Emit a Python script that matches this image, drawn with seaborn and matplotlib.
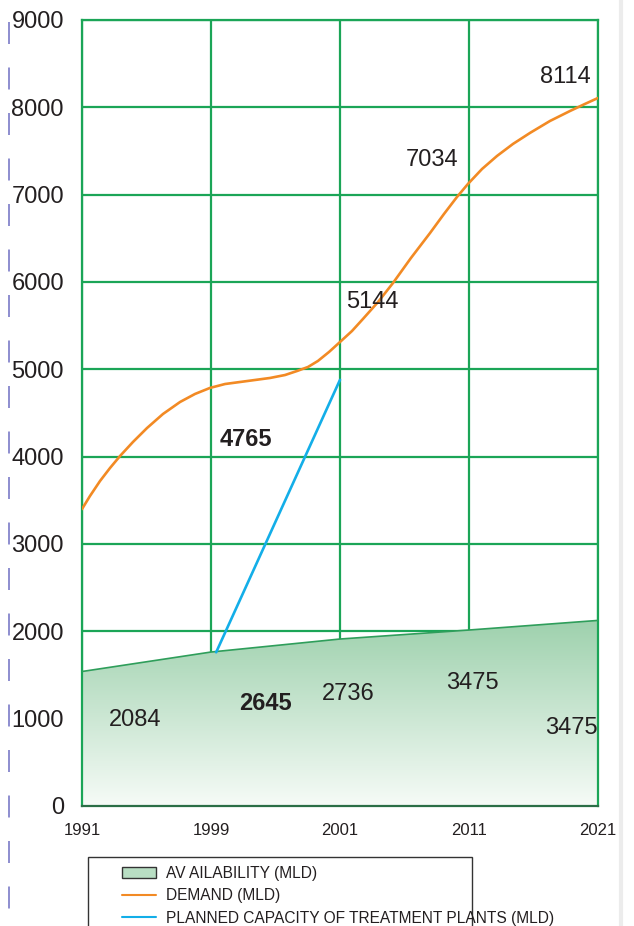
import numpy as np
import pandas as pd
import matplotlib
matplotlib.use("Agg")
import matplotlib.pyplot as plt
import seaborn as sns
from matplotlib.lines import Line2D
from matplotlib.patches import Patch, Rectangle
from matplotlib.colors import LinearSegmentedColormap

# ---------------- data ----------------
years = ["1991", "1999", "2001", "2011", "2021"]
availability = [1540, 1763, 1912, 2015, 2125]

demand_pos = [0.0, 0.062, 0.140, 0.217, 0.295, 0.395, 0.504, 0.628, 0.760,
              0.876, 0.992, 1.109, 1.225, 1.341, 1.457, 1.574, 1.667, 1.752,
              1.829, 1.915, 2.0, 2.093, 2.178, 2.295, 2.411, 2.550, 2.698,
              2.806, 2.907, 2.992, 3.101, 3.217, 3.341, 3.473, 3.628, 3.783,
              3.899, 4.0]
demand_val = [3400, 3550, 3722, 3870, 4008, 4168, 4328, 4489, 4626,
              4718, 4787, 4832, 4855, 4878, 4901, 4935, 4981, 5027,
              5096, 5199, 5313, 5439, 5577, 5771, 5989, 6275, 6561,
              6779, 6974, 7123, 7294, 7443, 7581, 7707, 7844, 7958,
              8039, 8107]

planned_pos = [1.04, 2.0]
planned_val = [1760, 4880]

y_ticks = [0, 1000, 2000, 3000, 4000, 5000, 6000, 7000, 8000, 9000]

label_text = ["2084", "2645", "2736", "3475", "3475", "4765", "5144", "7034", "8114"]
label_x = [0.41, 1.419, 2.062, 3.023, 3.791, 1.271, 2.248, 2.713, 3.744]
label_y = [985, 1168, 1282, 1408, 893, 4191, 5771, 7397, 8347]
label_bold = [False, True, False, False, False, True, False, False, False]

legend_labels = ["AV AILABILITY (MLD)", "DEMAND (MLD)",
                 "PLANNED CAPACITY OF TREATMENT PLANTS (MLD)"]

# ---------------- style ----------------
sns.set_style("white")
plt.rcParams["font.family"] = ["Liberation Sans", "DejaVu Sans"]
plt.rcParams["lines.scale_dashes"] = False

GRID = "#1ba557"
TXT = "#231f20"
ORANGE = "#f28a24"
BLUE = "#13aee8"

W, H = 634, 926
fig = plt.figure(figsize=(W / 100, H / 100), dpi=100)
ax = fig.add_axes([82 / W, 120 / H, 516 / W, 786 / H])

x_idx = np.arange(len(years))
df_av = pd.DataFrame({"x": x_idx, "v": availability})

# gradient filled area
poly = ax.fill_between(df_av["x"], 0, df_av["v"], facecolor="none",
                       edgecolor="none")
cmap = LinearSegmentedColormap.from_list("g", ["#f6fbf7", "#9ed1ad"])
grad = np.linspace(1, 0, 256).reshape(-1, 1)
im = ax.imshow(grad, cmap=cmap, vmin=0, vmax=1, aspect="auto",
               extent=(0, 4, 0, max(availability)), origin="upper", zorder=1)
im.set_clip_path(poly.get_paths()[0], transform=ax.transData)

sns.lineplot(data=df_av, x="x", y="v", ax=ax, color="#2f9e5b", lw=1.2,
             zorder=3)
sns.lineplot(x=demand_pos, y=demand_val, ax=ax, color=ORANGE, lw=1.9,
             sort=False, zorder=4)
sns.lineplot(x=planned_pos, y=planned_val, ax=ax, color=BLUE, lw=1.9,
             sort=False, zorder=4)

for t, xx, yy, b in zip(label_text, label_x, label_y, label_bold):
    ax.text(xx, yy, t, ha="center", va="center", fontsize=17, color=TXT,
            fontweight="bold" if b else "normal", zorder=5)

ax.set_xlim(0, 4)
ax.set_ylim(0, 9000)
ax.set_xticks(x_idx)
ax.set_xticklabels(years)
ax.set_yticks(y_ticks)
ax.set_yticklabels([str(v) for v in y_ticks])
ax.set_xlabel("")
ax.set_ylabel("")
ax.set_axisbelow(True)
ax.grid(True, color=GRID, lw=1.6)
ax.tick_params(axis="x", direction="inout", length=8, width=1,
               color="#333333", labelsize=12, labelcolor=TXT, pad=8)
ax.tick_params(axis="y", length=0, labelsize=17, labelcolor=TXT, pad=13)
for s in ["left", "top", "right"]:
    ax.spines[s].set_color(GRID)
    ax.spines[s].set_linewidth(1.6)
ax.spines["bottom"].set_color("#2b6e46")
ax.spines["bottom"].set_linewidth(1.6)

# legend
fig.add_artist(Rectangle((88 / W, -0.05), (472 - 88) / W, (926 - 857) / H + 0.05,
                         transform=fig.transFigure, fill=False,
                         edgecolor="#333333", lw=1))
handles = [Patch(facecolor="#b8dec3", edgecolor="#333333", lw=1),
           Line2D([], [], color=ORANGE, lw=1.5),
           Line2D([], [], color=BLUE, lw=1.5)]
fig.legend(handles, legend_labels, loc="upper left",
           bbox_to_anchor=(122 / W, (926 - 866) / H),
           bbox_transform=fig.transFigure, frameon=False, fontsize=11.2,
           borderpad=0, borderaxespad=0, handlelength=2.2,
           handletextpad=0.6, labelspacing=0.48, labelcolor=TXT)

# page decorations: dashed left rule and light right edge
fig.add_artist(Line2D([9 / W, 9 / W], [1, 0], transform=fig.transFigure,
                      color="#8585cc", lw=1.3,
                      linestyle=(23.5 * 0.72, (22 * 0.72, 23.5 * 0.72))))
fig.add_artist(Line2D([621 / W, 621 / W], [1, 0], transform=fig.transFigure,
                      color="#ececec", lw=3))

fig.savefig("out.png", dpi=100)
